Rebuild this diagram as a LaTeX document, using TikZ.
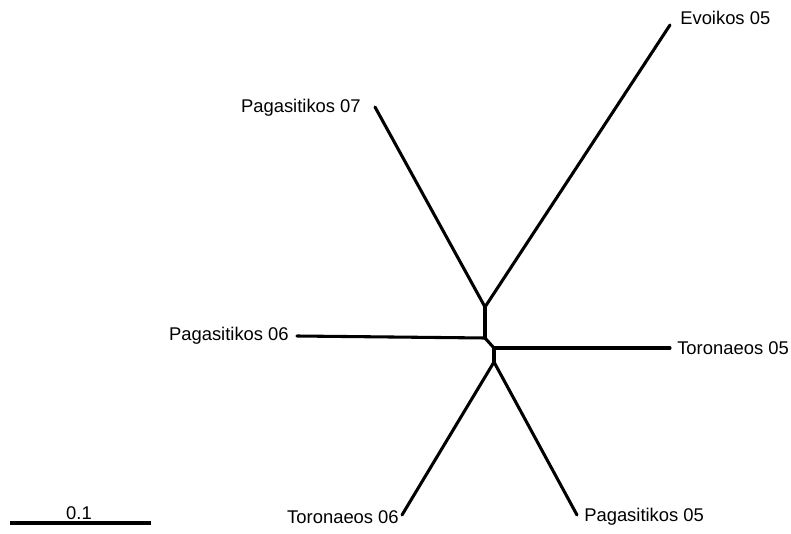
\documentclass[tikz,border=0pt]{standalone}
\usepackage{fontspec}
\setmainfont{Liberation Sans}
\begin{document}
\begin{tikzpicture}[x=0.75pt,y=-0.75pt,
  branch/.style={line width=2.3pt,line cap=round,line join=round},
  leaflabel/.style={inner sep=0pt,font=\fontsize{13.8}{16}\selectfont}]
\useasboundingbox (0,0) rectangle (791,534);
% internal nodes
\coordinate (n1) at (485,307);
\coordinate (n2) at (485,338);
\coordinate (n3) at (494,348);
\coordinate (n4) at (494,362);
% leaves
\coordinate (evo) at (670,25);
\coordinate (p07) at (375,107);
\coordinate (p06) at (297,336);
\coordinate (t05) at (670,348);
\coordinate (t06) at (402,515);
\coordinate (p05) at (577,515);
% branches
\draw[branch] (p07) -- (n1);
\draw[branch] (evo) -- (n1);
\draw[branch] (n1) -- (n2);
\draw[branch] (p06) -- (n2);
\draw[branch] (n2) -- (n3);
\draw[branch] (n3) -- (t05);
\draw[branch] (n3) -- (n4);
\draw[branch] (n4) -- (t06);
\draw[branch] (n4) -- (p05);
% labels
\node[leaflabel,anchor=west] (levo) at (680,18) {Evoikos 05};
\node[leaflabel,anchor=east] (lp07) at (361,108) {Pagasitikos 07};
\node[leaflabel,anchor=east] (lp06) at (289,336) {Pagasitikos 06};
\node[leaflabel,anchor=west] (lt05) at (677,348) {Toronaeos 05};
\node[leaflabel,anchor=east] (lt06) at (399,517) {Toronaeos 06};
\node[leaflabel,anchor=west] (lp05) at (584,517) {Pagasitikos 05};
% scale bar
\coordinate (sa) at (10,523);
\coordinate (sb) at (151,523);
\draw[line width=2.3pt] (sa) -- (sb);
\node[leaflabel] (sl) at (79,513) {0.1};
\end{tikzpicture}
\end{document}
